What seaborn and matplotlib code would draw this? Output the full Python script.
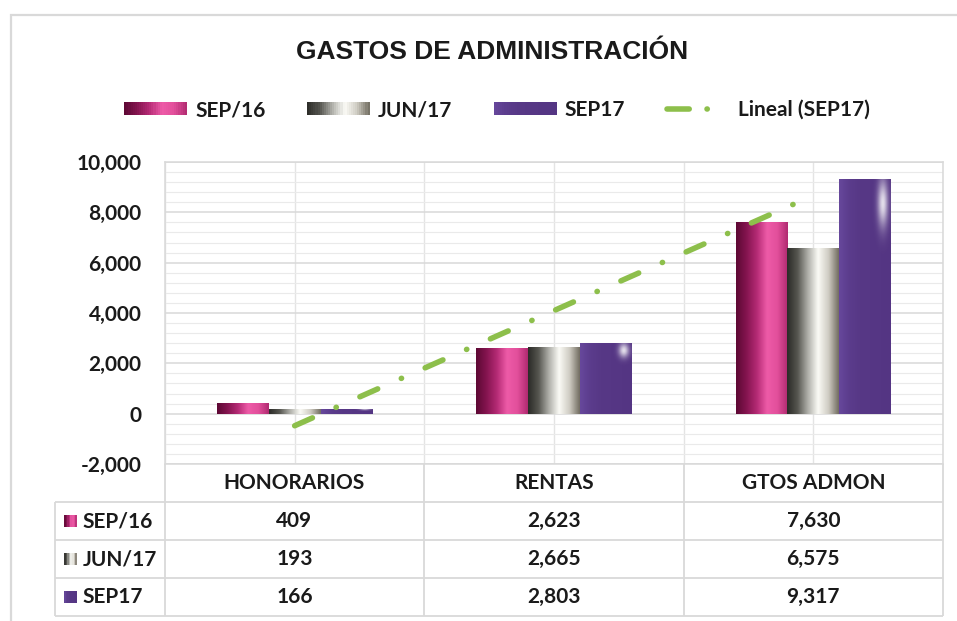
import numpy as np
import pandas as pd
import matplotlib
matplotlib.use("Agg")
import matplotlib.pyplot as plt
import seaborn as sns
from matplotlib.colors import LinearSegmentedColormap
from matplotlib.patches import Rectangle
from matplotlib.lines import Line2D
from matplotlib.legend_handler import HandlerBase
from matplotlib.ticker import MultipleLocator, FuncFormatter

# datos del grafico
categorias = ["HONORARIOS", "RENTAS", "GTOS ADMON"]
periodos = ["SEP/16", "JUN/17", "SEP17"]
sep16 = [409, 2623, 7630]
jun17 = [193, 2665, 6575]
sep17 = [166, 2803, 9317]
titulo = "GASTOS DE ADMINISTRACIÓN"
etiqueta_tendencia = "Lineal (SEP17)"

valores = {"SEP/16": sep16, "JUN/17": jun17, "SEP17": sep17}
df = pd.DataFrame([
    {"Categoria": c, "Periodo": p, "Valor": v}
    for p in periodos for c, v in zip(categorias, valores[p])
])

# colores (degradados tipo Excel)
grad_colors = {
    "SEP/16": ["#5c0833", "#84144f", "#b42a74", "#ee5ba8", "#e24f9b", "#b02a70"],
    "JUN/17": ["#2b2b27", "#55554f", "#aeaea8", "#fbfbf6", "#cfccc3", "#716c60"],
    "SEP17": ["#67489c", "#5b3c8c", "#573886", "#563785", "#553684", "#543583"],
}
cmaps = {p: LinearSegmentedColormap.from_list(p, c) for p, c in grad_colors.items()}
base = {p: grad_colors[p][2] for p in periodos}
verde = "#8dbf4b"
gris_grid = "#d9d9d9"
texto = "#1a1a1a"

sns.set_theme(style="white")
plt.rcParams["font.family"] = ["Lato", "DejaVu Sans"]

W, H = 957, 621
fig = plt.figure(figsize=(W / 100, H / 100), dpi=100)

# marco exterior
fig.add_artist(Rectangle((11 / W, -0.1), 2, 1 - 15 / H + 0.1, transform=fig.transFigure,
                         fill=False, edgecolor=gris_grid, lw=1.6))

ax = fig.add_axes([165 / W, 1 - 464 / H, (943 - 165) / W, (464 - 162) / H])
sns.barplot(data=df, x="Categoria", y="Valor", hue="Periodo", order=categorias,
            hue_order=periodos, palette=base, width=0.6, gap=0, saturation=1,
            linewidth=0, errorbar=None, legend=False, ax=ax)

# relleno degradado de cada barra
grad = np.linspace(0, 1, 256).reshape(1, -1)
for periodo, cont in zip(periodos, ax.containers):
    for bar in cont:
        x0, y0 = bar.get_x(), bar.get_y()
        w, h = bar.get_width(), bar.get_height()
        im = ax.imshow(grad, cmap=cmaps[periodo], aspect="auto", interpolation="bicubic",
                       extent=(x0, x0 + w, y0, y0 + h), zorder=2)
        im.set_clip_path(bar)
        if periodo == "SEP17":
            # brillo blanco arriba a la derecha
            ny, nx = 160, 60
            yy = np.linspace(0, 1, ny).reshape(-1, 1)
            xx = np.linspace(0, 1, nx).reshape(1, -1)
            a = np.exp(-((xx - 0.85) / 0.1) ** 2 - ((yy - 0.9) / 0.1) ** 2)
            rgba = np.ones((ny, nx, 4))
            rgba[..., 3] = 0.85 * a
            im2 = ax.imshow(rgba, origin="lower", aspect="auto", interpolation="bicubic",
                            extent=(x0, x0 + w, y0, y0 + h), zorder=2.1)
            im2.set_clip_path(bar)

# linea de tendencia de SEP17
xs = np.arange(len(categorias))
coef = np.polyfit(xs, sep17, 1)
ax.plot(xs, np.polyval(coef, xs), color=verde, lw=4.0, dashes=(3.5, 4.65, 0.05, 4.65),
        dash_capstyle="round", zorder=4)

ax.set_xlim(-0.5, 2.5)
ax.set_ylim(-2000, 10000)
ax.set_xticks(np.arange(-0.5, 2.51, 0.5))
ax.set_xticklabels([])
ax.yaxis.set_major_locator(MultipleLocator(2000))
ax.yaxis.set_minor_locator(MultipleLocator(400))
ax.yaxis.set_major_formatter(FuncFormatter(lambda v, _: f"{int(v):,}"))
ax.set_axisbelow(True)
ax.grid(axis="x", color="#e4e4e4", lw=1)
ax.grid(axis="y", which="major", color=gris_grid, lw=1.1)
ax.grid(axis="y", which="minor", color="#eaeaea", lw=0.8)
ax.tick_params(axis="both", which="both", length=0)
ax.tick_params(axis="y", pad=17, labelsize=15, labelcolor=texto)
for lab in ax.get_yticklabels():
    lab.set_fontweight("bold")
ax.set_xlabel("")
ax.set_ylabel("")
for s in ax.spines.values():
    s.set_color(gris_grid)
    s.set_linewidth(1.1)

# tabla de datos
lab_w = 110 / 260
tax = fig.add_axes([55 / W, 1 - 616 / H, (943 - 55) / W, (616 - 464) / H])
tax.set_xlim(-0.5 - lab_w, 2.5)
tax.set_ylim(4, 0)
tax.axis("off")
x_left = -0.5 - lab_w
tax.hlines([1, 2, 3, 4], x_left, 2.5, color=gris_grid, lw=1.3, clip_on=False)
tax.vlines([-0.5, 0.5, 1.5, 2.5], 0, 4, color=gris_grid, lw=1.3, clip_on=False)
tax.vlines([x_left], 1, 4, color=gris_grid, lw=1.3, clip_on=False)

for i, c in enumerate(categorias):
    tax.text(i, 0.5, c, ha="center", va="center", fontsize=15, fontweight="bold", color=texto)

sw_w, sw_h = 13 / 260, 12 / 38
for r, p in enumerate(periodos, start=1):
    sx = x_left + 9 / 260
    n = 8
    for k in range(n):
        tax.add_patch(Rectangle((sx + sw_w * k / n, r + 0.5 - sw_h / 2), sw_w / n * 1.05, sw_h,
                                facecolor=cmaps[p]((k + 0.5) / n), edgecolor="none"))
    tax.text(x_left + 28 / 260, r + 0.5, p, ha="left", va="center", fontsize=15,
             fontweight="bold", color=texto)
    for i, v in enumerate(valores[p]):
        tax.text(i, r + 0.5, f"{v:,}", ha="center", va="center", fontsize=15,
                 fontweight="bold", color=texto)

# titulo
fig.text(492 / W, 1 - 52 / H, titulo, ha="center", va="center", fontsize=19,
         fontweight="bold", color=texto, family=["Liberation Sans", "DejaVu Sans"])


class GradientHandler(HandlerBase):
    def __init__(self, cmap, n=30):
        super().__init__()
        self.cmap = cmap
        self.n = n

    def create_artists(self, legend, orig_handle, xdescent, ydescent, width, height,
                       fontsize, trans):
        arts = []
        for k in range(self.n):
            arts.append(Rectangle((-xdescent + width * k / self.n, -ydescent),
                                  width / self.n * 1.05, height,
                                  facecolor=self.cmap((k + 0.5) / self.n),
                                  edgecolor="none", transform=trans))
        return arts


handles = [Rectangle((0, 0), 1, 1) for _ in periodos]
hmap = {h: GradientHandler(cmaps[p]) for h, p in zip(handles, periodos)}
trend_handle = Line2D([], [], color=verde, lw=4.0, dashes=(4.0, 3.2, 0.05, 5.0),
                      dash_capstyle="round")
fig.legend(handles + [trend_handle], periodos + [etiqueta_tendencia], handler_map=hmap,
           loc="center", bbox_to_anchor=(497 / W, 1 - 110 / H), ncol=4, frameon=False,
           prop={"size": 15, "weight": "bold"}, handlelength=3.0, handleheight=0.55,
           handletextpad=0.4, columnspacing=2.0, labelcolor=texto)

fig.savefig("out.png", dpi=100)
